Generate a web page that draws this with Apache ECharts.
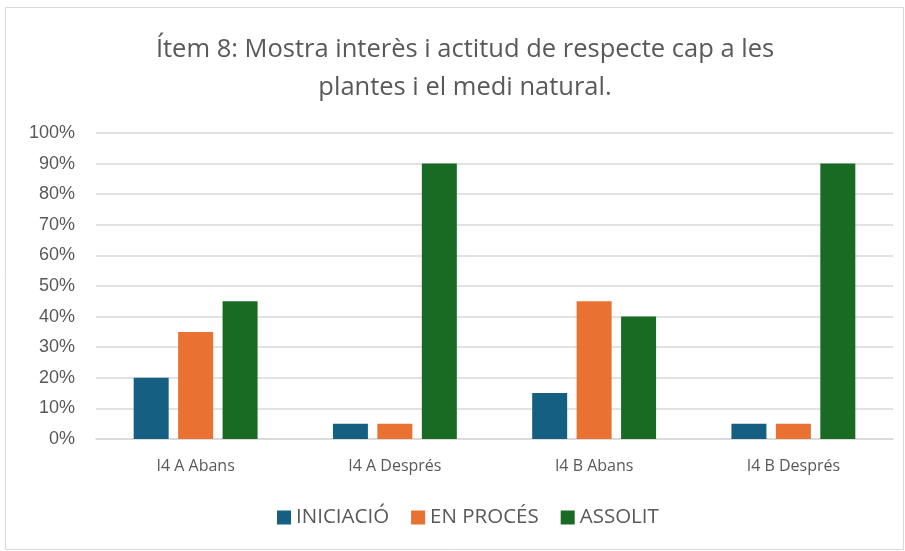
<!DOCTYPE html>
<html><head><meta charset="utf-8">
<script src="https://cdn.jsdelivr.net/npm/echarts@6/dist/echarts.min.js"></script>
<style>html,body{margin:0;padding:0;background:#fff}#c{width:905px;height:551px}</style>
</head><body><div id="c"></div>
<script>
const categories = ['I4 A Abans', 'I4 A Després', 'I4 B Abans', 'I4 B Després'];
const seriesNames = ['INICIACIÓ', 'EN PROCÉS', 'ASSOLIT'];
const iniciacio = [20, 5, 15, 5];
const enProces = [35, 5, 45, 5];
const assolit = [45, 90, 40, 90];
const colors = ['#156082', '#E97132', '#196B24'];
const titleText = 'Ítem 8: Mostra interès i actitud de respecte cap a les\nplantes i el medi natural.';

const chart = echarts.init(document.getElementById('c'));
const fam = '"Open Sans", "Noto Sans", sans-serif';
chart.setOption({
  animation: false,
  color: colors,
  graphic: [{type: 'rect', shape: {x: 5.5, y: 7.5, width: 898, height: 542}, style: {fill: 'none', stroke: '#d9d9d9', lineWidth: 1}, z: -1}],
  title: {
    text: titleText, left: 460, top: 26, textAlign: 'center',
    textStyle: {fontFamily: fam, fontSize: 25.5, fontWeight: 'normal', color: '#595959', lineHeight: 38}
  },
  grid: {left: 96, right: 12, top: 133, bottom: 112, containLabel: false},
  legend: {
    data: seriesNames, bottom: 18, left: 272, itemWidth: 14, itemHeight: 14, itemGap: 22,
    icon: 'rect',
    textStyle: {fontFamily: fam, fontSize: 20.5, color: '#595959'}
  },
  xAxis: {
    type: 'category', data: categories,
    axisLine: {lineStyle: {color: '#d9d9d9', width: 1.5}}, axisTick: {show: false},
    axisLabel: {fontFamily: fam, fontSize: 16, color: '#595959', margin: 19}
  },
  yAxis: {
    type: 'value', min: 0, max: 100, interval: 10,
    axisLabel: {formatter: '{value}%', fontFamily: '"Liberation Sans", Arial, sans-serif', fontSize: 18, color: '#595959', margin: 21},
    splitLine: {lineStyle: {color: '#d9d9d9', width: 1.5}},
    axisLine: {show: false}, axisTick: {show: false}
  },
  series: [
    {name: seriesNames[0], type: 'bar', data: iniciacio, barWidth: 35, barGap: '27%'},
    {name: seriesNames[1], type: 'bar', data: enProces, barWidth: 35, barGap: '27%'},
    {name: seriesNames[2], type: 'bar', data: assolit, barWidth: 35, barGap: '27%'}
  ]
});
</script></body></html>
